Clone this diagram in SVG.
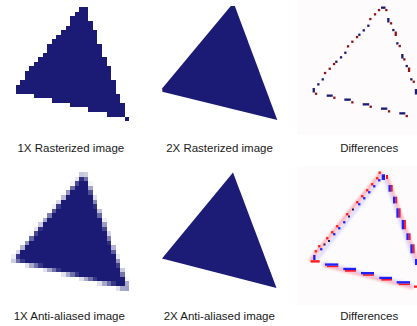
<svg xmlns="http://www.w3.org/2000/svg" width="417" height="326" viewBox="0 0 417 326">
<style>
.lbl{font-family:"Liberation Sans",Arial,sans-serif;font-size:11.5px;fill:#1a1a1a;text-anchor:middle}
.nv{fill:#1b1b76}
.px{fill:#1b1b76}
.rd{fill:#8e1414}
.bn{fill:#1b1b76}
.R{fill:#ff1a1a}
.B{fill:#1f1fff}
.D{fill:#1b1b76}
</style>
<defs>
<filter id="soft" x="-5%" y="-5%" width="110%" height="110%"><feGaussianBlur stdDeviation="0.55"/></filter>
<filter id="halo" x="-10%" y="-10%" width="120%" height="120%"><feGaussianBlur stdDeviation="0.9"/></filter>
</defs>
<rect width="417" height="326" fill="#ffffff"/>

<g id="raster1x" transform="translate(1.85,7.3) scale(4.55)" shape-rendering="crispEdges">
<path class="nv" d="M17,0 H19 V3 H20 V5 H21 V8 H22 V11 H23 V13 H24 V16 H25 V19 H26 V21 H27 V24 H28 V25 H27 V24 H23 V23 H19 V22 H15 V21 H11 V20 H7 V19 H3 V17 H4 V16 H5 V14 H6 V13 H7 V12 H8 V11 H9 V10 H10 V8 H11 V7 H12 V6 H13 V5 H14 V4 H15 V2 H16 V1 H17 Z"/>
</g>

<g id="raster2x">
<polygon class="nv" points="230.8,6 234.8,6 277.3,120 162.3,91.8 162.3,88.3"/>
</g>

<g id="diffRaster">
<rect x="297" y="0" width="120" height="135" fill="#fefbfc"/>
<g class="bn">
<rect x="381" y="6.5" width="4.5" height="2.3"/>
<rect x="367.2" y="24.6" width="2.3" height="2.3"/>
<rect x="362.6" y="29.2" width="2.3" height="2.3"/>
<rect x="358.2" y="33.6" width="2.3" height="2.3"/>
<rect x="344.2" y="51.6" width="2.3" height="2.3"/>
<rect x="339.9" y="56.2" width="2.3" height="2.3"/>
<rect x="335.2" y="60.6" width="2.3" height="2.3"/>
<rect x="321.6" y="78.2" width="2.3" height="2.3"/>
<rect x="317.2" y="83.2" width="2.3" height="2.3"/>
<rect x="312.6" y="88" width="2.3" height="4.5"/>
<rect x="326.7" y="94.5" width="6" height="2.3"/>
<rect x="344.3" y="98.5" width="6.5" height="2.3"/>
<rect x="362.7" y="103.2" width="6.5" height="2.3"/>
<rect x="381" y="107.5" width="6.3" height="2.3"/>
<rect x="399.3" y="112.2" width="6" height="2.3"/>
<rect x="387.2" y="18" width="2.3" height="4.5"/>
<rect x="392.2" y="28.9" width="2.3" height="2.3"/>
<rect x="396.2" y="42.2" width="2.3" height="2.3"/>
<rect x="401.2" y="54" width="2.3" height="4.5"/>
<rect x="405.6" y="64.9" width="2.3" height="2.3"/>
<rect x="410.2" y="78.2" width="2.3" height="2.3"/>
<rect x="414.8" y="89" width="2.3" height="5.5"/>
</g>
<g class="rd">
<rect x="377.9" y="8.9" width="2.3" height="2.3"/>
<rect x="385.2" y="8.9" width="2.3" height="2.3"/>
<rect x="373.9" y="13.2" width="2.3" height="2.3"/>
<rect x="369.2" y="17.9" width="2.3" height="2.3"/>
<rect x="355.9" y="35.9" width="2.3" height="2.3"/>
<rect x="351.2" y="40.6" width="2.3" height="2.3"/>
<rect x="346.9" y="45.2" width="2.3" height="2.3"/>
<rect x="332.9" y="62.9" width="2.3" height="2.3"/>
<rect x="328.6" y="67.6" width="2.3" height="2.3"/>
<rect x="323.9" y="71.9" width="2.3" height="2.3"/>
<rect x="314.9" y="92.6" width="2.3" height="2.3"/>
<rect x="333.2" y="96.6" width="2.3" height="2.3"/>
<rect x="351.2" y="101.2" width="2.3" height="2.3"/>
<rect x="369.6" y="105.6" width="2.3" height="2.3"/>
<rect x="387.9" y="110.2" width="2.3" height="2.3"/>
<rect x="405.6" y="114.9" width="2.3" height="2.3"/>
<rect x="389.9" y="22.2" width="2.3" height="2.3"/>
<rect x="398.6" y="44.9" width="2.3" height="2.3"/>
<rect x="403.2" y="58.2" width="2.3" height="2.3"/>
<rect x="412.6" y="80.6" width="2.3" height="2.3"/>
<rect x="394.6" y="31.5" width="2.3" height="4.5"/>
<rect x="407.9" y="67.5" width="2.3" height="4.5"/>
</g>
</g>

<g id="aa1x" transform="translate(1.85,176.8) scale(4.55)" shape-rendering="crispEdges">
<path class="nv" d="M17,1 H19 V4 H20 V7 H21 V9 H22 V12 H23 V15 H24 V17 H25 V20 H26 V22 H27 V24 H25 V23 H21 V22 H17 V21 H13 V20 H9 V19 H5 V18 H4 V16 H5 V15 H6 V14 H7 V13 H8 V12 H9 V10 H10 V9 H11 V8 H12 V7 H13 V5 H14 V4 H15 V3 H16 V2 H17 Z"/>
<g class="px">
<rect x="17" y="-1" width="1" height="1" fill-opacity=".24"/>
<rect x="18" y="-1" width="1" height="1" fill-opacity=".21"/>
<rect x="16" y="0" width="1" height="1" fill-opacity=".11"/>
<rect x="17" y="0" width="1" height="1" fill-opacity=".9"/>
<rect x="18" y="0" width="1" height="1" fill-opacity=".63"/>
<rect x="15" y="1" width="1" height="1" fill-opacity=".05"/>
<rect x="16" y="1" width="1" height="1" fill-opacity=".8"/>
<rect x="19" y="1" width="1" height="1" fill-opacity=".05"/>
<rect x="15" y="2" width="1" height="1" fill-opacity=".65"/>
<rect x="19" y="2" width="1" height="1" fill-opacity=".39"/>
<rect x="14" y="3" width="1" height="1" fill-opacity=".47"/>
<rect x="19" y="3" width="1" height="1" fill-opacity=".77"/>
<rect x="13" y="4" width="1" height="1" fill-opacity=".3"/>
<rect x="20" y="4" width="1" height="1" fill-opacity=".15"/>
<rect x="12" y="5" width="1" height="1" fill-opacity=".17"/>
<rect x="20" y="5" width="1" height="1" fill-opacity=".53"/>
<rect x="11" y="6" width="1" height="1" fill-opacity=".07"/>
<rect x="12" y="6" width="1" height="1" fill-opacity=".86"/>
<rect x="20" y="6" width="1" height="1" fill-opacity=".9"/>
<rect x="11" y="7" width="1" height="1" fill-opacity=".74"/>
<rect x="21" y="7" width="1" height="1" fill-opacity=".29"/>
<rect x="10" y="8" width="1" height="1" fill-opacity=".57"/>
<rect x="21" y="8" width="1" height="1" fill-opacity=".67"/>
<rect x="9" y="9" width="1" height="1" fill-opacity=".39"/>
<rect x="22" y="9" width="1" height="1" fill-opacity=".08"/>
<rect x="8" y="10" width="1" height="1" fill-opacity=".23"/>
<rect x="22" y="10" width="1" height="1" fill-opacity=".43"/>
<rect x="7" y="11" width="1" height="1" fill-opacity=".12"/>
<rect x="8" y="11" width="1" height="1" fill-opacity=".91"/>
<rect x="22" y="11" width="1" height="1" fill-opacity=".81"/>
<rect x="6" y="12" width="1" height="1" fill-opacity=".04"/>
<rect x="7" y="12" width="1" height="1" fill-opacity=".81"/>
<rect x="23" y="12" width="1" height="1" fill-opacity=".19"/>
<rect x="6" y="13" width="1" height="1" fill-opacity=".67"/>
<rect x="23" y="13" width="1" height="1" fill-opacity=".57"/>
<rect x="5" y="14" width="1" height="1" fill-opacity=".49"/>
<rect x="23" y="14" width="1" height="1" fill-opacity=".92"/>
<rect x="4" y="15" width="1" height="1" fill-opacity=".32"/>
<rect x="24" y="15" width="1" height="1" fill-opacity=".33"/>
<rect x="3" y="16" width="1" height="1" fill-opacity=".18"/>
<rect x="24" y="16" width="1" height="1" fill-opacity=".71"/>
<rect x="2" y="17" width="1" height="1" fill-opacity=".08"/>
<rect x="3" y="17" width="1" height="1" fill-opacity=".87"/>
<rect x="25" y="17" width="1" height="1" fill-opacity=".1"/>
<rect x="2" y="18" width="1" height="1" fill-opacity=".22"/>
<rect x="3" y="18" width="1" height="1" fill-opacity=".63"/>
<rect x="4" y="18" width="1" height="1" fill-opacity=".88"/>
<rect x="25" y="18" width="1" height="1" fill-opacity=".47"/>
<rect x="5" y="19" width="1" height="1" fill-opacity=".13"/>
<rect x="6" y="19" width="1" height="1" fill-opacity=".38"/>
<rect x="7" y="19" width="1" height="1" fill-opacity=".63"/>
<rect x="8" y="19" width="1" height="1" fill-opacity=".88"/>
<rect x="25" y="19" width="1" height="1" fill-opacity=".85"/>
<rect x="9" y="20" width="1" height="1" fill-opacity=".13"/>
<rect x="10" y="20" width="1" height="1" fill-opacity=".38"/>
<rect x="11" y="20" width="1" height="1" fill-opacity=".63"/>
<rect x="12" y="20" width="1" height="1" fill-opacity=".88"/>
<rect x="26" y="20" width="1" height="1" fill-opacity=".23"/>
<rect x="13" y="21" width="1" height="1" fill-opacity=".13"/>
<rect x="14" y="21" width="1" height="1" fill-opacity=".38"/>
<rect x="15" y="21" width="1" height="1" fill-opacity=".63"/>
<rect x="16" y="21" width="1" height="1" fill-opacity=".88"/>
<rect x="26" y="21" width="1" height="1" fill-opacity=".61"/>
<rect x="17" y="22" width="1" height="1" fill-opacity=".13"/>
<rect x="18" y="22" width="1" height="1" fill-opacity=".38"/>
<rect x="19" y="22" width="1" height="1" fill-opacity=".63"/>
<rect x="20" y="22" width="1" height="1" fill-opacity=".88"/>
<rect x="27" y="22" width="1" height="1" fill-opacity=".04"/>
<rect x="21" y="23" width="1" height="1" fill-opacity=".13"/>
<rect x="22" y="23" width="1" height="1" fill-opacity=".38"/>
<rect x="23" y="23" width="1" height="1" fill-opacity=".63"/>
<rect x="24" y="23" width="1" height="1" fill-opacity=".88"/>
<rect x="27" y="23" width="1" height="1" fill-opacity=".37"/>
<rect x="25" y="24" width="1" height="1" fill-opacity=".13"/>
<rect x="26" y="24" width="1" height="1" fill-opacity=".38"/>
<rect x="27" y="24" width="1" height="1" fill-opacity=".41"/>
</g>
</g>

<g id="aa2x">
<polygon class="nv" points="233,172.5 276.5,288 162,258.5" filter="url(#soft)"/>
</g>

<g id="diffAA">
<rect x="297" y="166" width="120" height="139" fill="#fefbfc"/>
<g filter="url(#halo)" fill="none" stroke-width="3.2" stroke-linecap="round">
<polyline points="382,174 314,258 312,261" stroke="#ffb0b8" transform="translate(-1.2,-1)"/>
<polyline points="382,175 316,258" stroke="#c8c8ff" stroke-opacity="0.6" transform="translate(1.2,1)"/>
<polyline points="386,178 417,264" stroke="#ffb8c0" transform="translate(1.5,0)"/>
<polyline points="386,178 417,264" stroke="#c8c8ff" stroke-opacity="0.6" transform="translate(-1.5,0)"/>
<polyline points="324,264 412,286" stroke="#ffb8c0" transform="translate(0,1.5)"/>
<polyline points="324,264 412,286" stroke="#c8c8ff" stroke-opacity="0.6" transform="translate(0,-1)"/>
</g>
<g class="R">
<rect x="378.5" y="171.5" width="2.3" height="2.3"/>
<rect x="386" y="175" width="2" height="4"/>
<rect x="376.1" y="177.1" width="2.3" height="2.3"/>
<rect x="371.1" y="183.1" width="2.3" height="2.3"/>
<rect x="366.1" y="189.1" width="2.3" height="2.3"/>
<rect x="361.1" y="195.1" width="2.3" height="2.3"/>
<rect x="356.1" y="201.1" width="2.3" height="2.3"/>
<rect x="346.1" y="213.1" width="2.3" height="2.3"/>
<rect x="336.1" y="225.1" width="2.3" height="2.3"/>
<rect x="331.1" y="231.1" width="2.3" height="2.3"/>
<rect x="326.1" y="237.1" width="2.3" height="2.3"/>
<rect x="318.1" y="245.1" width="2.3" height="2.3"/>
<rect x="314.6" y="250.1" width="2.3" height="2.3"/>
<rect x="310.7" y="260.2" width="9" height="2.4"/>
<rect x="390.8" y="185" width="1.9" height="6.7"/>
<rect x="395.3" y="196.7" width="1.9" height="6.7"/>
<rect x="398.7" y="208.3" width="1.9" height="9.4"/>
<rect x="404" y="220" width="1.9" height="9.3"/>
<rect x="408.7" y="233.3" width="1.9" height="6.7"/>
<rect x="412.7" y="244.3" width="1.9" height="9"/>
<rect x="327" y="265.6" width="11.3" height="1.6"/>
<rect x="345" y="270" width="11" height="1.7"/>
<rect x="363" y="274.2" width="11" height="1.6"/>
<rect x="381.3" y="279" width="10.7" height="1.6"/>
<rect x="398.7" y="283.5" width="11.3" height="1.6"/>
<rect x="414" y="285.5" width="3" height="2.3"/>
</g>
<g class="B">
<rect x="381.7" y="174.3" width="3.3" height="5.7"/>
<rect x="378.1" y="179.1" width="2.3" height="2.3"/>
<rect x="373.1" y="185.1" width="2.3" height="2.3"/>
<rect x="368.1" y="191.1" width="2.3" height="2.3"/>
<rect x="363.1" y="197.1" width="2.3" height="2.3"/>
<rect x="358.1" y="203.1" width="2.3" height="2.3"/>
<rect x="343.1" y="221.1" width="2.3" height="2.3"/>
<rect x="338.1" y="227.1" width="2.3" height="2.3"/>
<rect x="333.1" y="233.1" width="2.3" height="2.3"/>
<rect x="320.1" y="248.1" width="2.3" height="2.3"/>
<rect x="313.2" y="255" width="2.3" height="5"/>
<rect x="388.5" y="185" width="2.3" height="6.7"/>
<rect x="393" y="196.7" width="2.3" height="6.7"/>
<rect x="396.4" y="208.3" width="2.3" height="9.4"/>
<rect x="401.7" y="220" width="2.3" height="9.3"/>
<rect x="406.4" y="233.3" width="2.3" height="6.7"/>
<rect x="410.4" y="244.3" width="2.3" height="9"/>
<rect x="415" y="259" width="2" height="6"/>
<rect x="325" y="263.4" width="13.3" height="2.3"/>
<rect x="343.3" y="267.8" width="12.7" height="2.3"/>
<rect x="361" y="272" width="13" height="2.3"/>
<rect x="379.3" y="276.8" width="12.7" height="2.3"/>
<rect x="396.7" y="281.2" width="13.3" height="2.3"/>
</g>
<g class="D">
<rect x="383" y="176" width="1.5" height="1.5"/>
<rect x="352" y="208.5" width="2" height="2"/>
<rect x="348" y="215.5" width="2" height="2"/>
<rect x="328" y="240" width="2" height="2"/>
<rect x="323.5" y="243.5" width="2" height="2"/>
</g>
</g>

<g id="labels">
<text class="lbl" x="70.8" y="152">1X Rasterized image</text>
<text class="lbl" x="219.5" y="152">2X Rasterized image</text>
<text class="lbl" x="369.2" y="152">Differences</text>
<text class="lbl" x="69.3" y="320">1X Anti-aliased image</text>
<text class="lbl" x="219.3" y="320">2X Anti-aliased image</text>
<text class="lbl" x="369.2" y="320">Differences</text>
</g>
</svg>
